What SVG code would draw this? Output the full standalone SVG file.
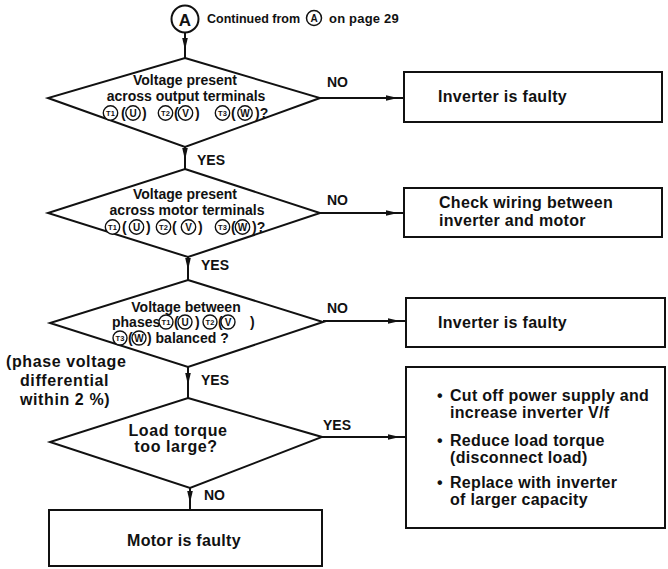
<svg xmlns="http://www.w3.org/2000/svg" width="668" height="569" viewBox="0 0 668 569">
<style>
text{font-family:"Liberation Sans",Arial,sans-serif;font-weight:bold;fill:#111}
.d,.b{fill:#fff;stroke:#111;stroke-width:2}
.t{font-size:14px;text-anchor:middle}
.l{font-size:14px}
.bx{font-size:16px;letter-spacing:0.3px}
.c{fill:#fff;stroke:#111;stroke-width:1.4}
.s{font-size:7.5px;text-anchor:middle}
.u{font-size:10px;text-anchor:middle}
.p{font-size:14px}
.cn{fill:none;stroke:#111;stroke-width:2}
</style>
<defs>
<marker id="ah" markerUnits="userSpaceOnUse" markerWidth="13" markerHeight="8" viewBox="0 -4 13 8" refX="12" refY="0" orient="auto">
<path d="M0,-2.8 L12,0 L0,2.8 z" fill="#111"/>
</marker>
</defs>

<g id="start">
<circle cx="185" cy="19" r="13.5" fill="#fff" stroke="#111" stroke-width="2"/>
<text x="185" y="25.5" style="font-size:17px;text-anchor:middle">A</text>
<text x="207" y="23" style="font-size:12.5px">Continued from</text>
<circle cx="314" cy="18" r="7.5" fill="#fff" stroke="#111" stroke-width="1.5"/>
<text x="314" y="22" style="font-size:10px;text-anchor:middle">A</text>
<text x="329" y="23" style="font-size:13px;letter-spacing:0.2px">on page 29</text>
</g>

<g id="connectors">
<path class="cn" d="M185,32 L185,50 L185,58" marker-mid="url(#ah)"/>
<path class="cn" d="M185,147 L185,160 L185,169" marker-mid="url(#ah)"/>
<path class="cn" d="M188,257 L188,270 L188,280" marker-mid="url(#ah)"/>
<path class="cn" d="M188,367 L188,385 L188,398" marker-mid="url(#ah)"/>
<path class="cn" d="M190,488 L190,503 L190,510" marker-mid="url(#ah)"/>
<path class="cn" d="M320,98 L398,98 L404,98" marker-mid="url(#ah)"/>
<path class="cn" d="M320,213 L398,213 L404,213" marker-mid="url(#ah)"/>
<path class="cn" d="M323,321 L400,321 L406,321" marker-mid="url(#ah)"/>
<path class="cn" d="M322,437 L400,437 L406,437" marker-mid="url(#ah)"/>
<text class="l" x="327" y="87">NO</text>
<text class="l" x="327" y="205">NO</text>
<text class="l" x="327" y="313">NO</text>
<text class="l" x="323" y="430">YES</text>
<text class="l" x="197" y="165">YES</text>
<text class="l" x="201" y="270">YES</text>
<text class="l" x="201" y="385">YES</text>
<text class="l" x="204" y="500">NO</text>
</g>

<g id="q1">
<polygon class="d" points="185,58 320,98 185,147 48,98"/>
<text class="t" x="185" y="85">Voltage present</text>
<text class="t" x="186" y="101">across output terminals</text>
<circle class="c" cx="110.5" cy="113" r="7.2"/><text class="s" x="110.5" y="115.7">T1</text>
<text class="p" x="121" y="118">(</text>
<circle class="c" cx="133" cy="113" r="7.2"/><text class="u" x="133" y="116.6">U</text>
<text class="p" x="142" y="118">)</text>
<circle class="c" cx="165.5" cy="113" r="7.2"/><text class="s" x="165.5" y="115.7">T2</text>
<text class="p" x="174" y="118">(</text>
<circle class="c" cx="185.5" cy="113" r="7.2"/><text class="u" x="185.5" y="116.6">V</text>
<text class="p" x="195" y="118">)</text>
<circle class="c" cx="222.5" cy="113" r="7.2"/><text class="s" x="222.5" y="115.7">T3</text>
<text class="p" x="231" y="118">(</text>
<circle class="c" cx="245" cy="113" r="7.2"/><text class="u" x="245" y="116.6">W</text>
<text class="p" x="255" y="118">)?</text>
</g>

<g id="q2">
<polygon class="d" points="185,169 320,213 188,257 48,213"/>
<text class="t" x="185" y="199">Voltage present</text>
<text class="t" x="187" y="215">across motor terminals</text>
<circle class="c" cx="112.5" cy="227" r="7.2"/><text class="s" x="112.5" y="229.7">T1</text>
<text class="p" x="122" y="232">(</text>
<circle class="c" cx="136.5" cy="227" r="7.2"/><text class="u" x="136.5" y="230.6">U</text>
<text class="p" x="146" y="232">)</text>
<circle class="c" cx="163.5" cy="227" r="7.2"/><text class="s" x="163.5" y="229.7">T2</text>
<text class="p" x="172" y="232">(</text>
<circle class="c" cx="188.5" cy="227" r="7.2"/><text class="u" x="188.5" y="230.6">V</text>
<text class="p" x="198" y="232">)</text>
<circle class="c" cx="222.5" cy="227" r="7.2"/><text class="s" x="222.5" y="229.7">T3</text>
<text class="p" x="231" y="232">(</text>
<circle class="c" cx="242.5" cy="227" r="7.2"/><text class="u" x="242.5" y="230.6">W</text>
<text class="p" x="252" y="232">)?</text>
</g>

<g id="q3">
<polygon class="d" points="188,280 323,322 188,367 50,323"/>
<text class="t" x="186" y="312">Voltage between</text>
<text class="p" x="112" y="327">phases</text>
<circle class="c" cx="166" cy="322" r="7"/><text class="s" x="166" y="324.7">T1</text>
<text class="p" x="174" y="327">(</text>
<circle class="c" cx="185" cy="322" r="7"/><text class="u" x="185" y="325.6">U</text>
<text class="p" x="195" y="327">)</text>
<circle class="c" cx="210" cy="322" r="7"/><text class="s" x="210" y="324.7">T2</text>
<text class="p" x="218" y="327">(</text>
<circle class="c" cx="228" cy="322" r="7"/><text class="u" x="228" y="325.6">V</text>
<text class="p" x="250" y="327">)</text>
<circle class="c" cx="120" cy="338" r="7"/><text class="s" x="120" y="340.7">T3</text>
<text class="p" x="128" y="343">(</text>
<circle class="c" cx="139" cy="338" r="7"/><text class="u" x="139" y="341.6">W</text>
<text class="p" x="147" y="343">) balanced ?</text>
</g>

<g id="note">
<text style="font-size:16px;letter-spacing:0.6px" x="6" y="367">(phase voltage</text>
<text style="font-size:16px;letter-spacing:0.6px" x="20" y="386">differential</text>
<text style="font-size:16px;letter-spacing:0.6px" x="20" y="405">within 2 %)</text>
</g>

<g id="q4">
<polygon class="d" points="188,398 322,437 190,488 50,442"/>
<text class="t" style="font-size:16px;letter-spacing:0.6px" x="178" y="436">Load torque</text>
<text class="t" style="font-size:16px;letter-spacing:0.6px" x="176" y="452">too large?</text>
</g>

<g id="motor">
<rect class="b" x="49" y="510" width="273" height="56"/>
<text class="bx" x="127" y="546">Motor is faulty</text>
</g>

<g id="r1">
<rect class="b" x="404" y="72" width="258" height="50"/>
<text class="bx" x="438" y="102">Inverter is faulty</text>
</g>

<g id="r2">
<rect class="b" x="404" y="188" width="258" height="49"/>
<text class="bx" x="439" y="208">Check wiring between</text>
<text class="bx" x="439" y="226">inverter and motor</text>
</g>

<g id="r3">
<rect class="b" x="406" y="298" width="259" height="49"/>
<text class="bx" x="438" y="328">Inverter is faulty</text>
</g>

<g id="r4">
<rect class="b" x="406" y="367" width="259" height="161"/>
<text class="bx" x="437" y="401">•</text>
<text class="bx" x="450" y="401">Cut off power supply and</text>
<text class="bx" x="450" y="418">increase inverter V/f</text>
<text class="bx" x="437" y="446">•</text>
<text class="bx" x="450" y="446">Reduce load torque</text>
<text class="bx" x="450" y="463">(disconnect load)</text>
<text class="bx" x="437" y="488">•</text>
<text class="bx" x="450" y="488">Replace with inverter</text>
<text class="bx" x="450" y="505">of larger capacity</text>
</g>
</svg>
